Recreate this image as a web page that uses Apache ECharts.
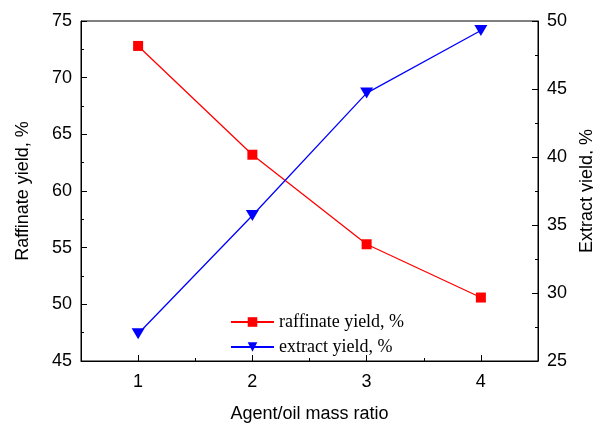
<!DOCTYPE html>
<html>
<head>
<meta charset="utf-8">
<script src="https://cdn.jsdelivr.net/npm/echarts@6/dist/echarts.min.js"></script>
<style>
  html, body { margin: 0; padding: 0; background: #fff; }
  #main { width: 593px; height: 425px; }
</style>
</head>
<body>
<div id="main"></div>
<script>
const ratios = [1, 2, 3, 4];
const halfRatios = [1.5, 2.5, 3.5];
const raffinateYield = [72.8, 63.2, 55.3, 50.6];
const extractYield = [27.0, 35.7, 44.7, 49.3];

const sans = 'Liberation Sans';
const serif = 'Liberation Serif';

const chart = echarts.init(document.getElementById('main'));

function pairs(xs, ys) {
  return xs.map((x, i) => [x, ys[i]]);
}

const axisCommon = {
  axisLine: { show: true, lineStyle: { color: '#000', width: 1 } },
  axisTick: { show: true, inside: true, length: 6, lineStyle: { color: '#000' } },
  minorTick: { show: true, splitNumber: 2, length: 3, lineStyle: { color: '#000' } },
  splitLine: { show: false },
  axisLabel: { color: '#000', fontFamily: sans, fontSize: 18, margin: 9 },
  nameTextStyle: { color: '#000', fontFamily: sans, fontSize: 18 }
};

const option = {
  animation: false,
  backgroundColor: '#fff',
  grid: {
    left: 81, right: 55, top: 21, bottom: 64,
    outerBoundsMode: 'none',
    containLabel: false,
    show: true, borderColor: '#000', borderWidth: 1, backgroundColor: 'transparent'
  },
  legend: {
    orient: 'vertical',
    left: 230,
    top: 313,
    padding: 0,
    itemWidth: 43,
    itemHeight: 12,
    itemGap: 7,
    textStyle: { color: '#000', fontFamily: serif, fontSize: 18 },
    data: ['raffinate yield, %', 'extract yield, %']
  },
  xAxis: [
    Object.assign({}, axisCommon, {
      type: 'value',
      min: 0.5, max: 4.5,
      position: 'bottom',
      name: 'Agent/oil mass ratio',
      nameLocation: 'middle',
      nameGap: 44,
      axisLabel: Object.assign({}, axisCommon.axisLabel, {
        margin: 12,
        customValues: ratios
      }),
      axisTick: Object.assign({}, axisCommon.axisTick, { customValues: ratios }),
      minorTick: { show: false }
    }),
    {
      type: 'value',
      min: 0.5, max: 4.5,
      position: 'bottom',
      axisLine: { show: false },
      axisLabel: { show: false },
      splitLine: { show: false },
      axisTick: { show: true, inside: true, length: 3, customValues: halfRatios, lineStyle: { color: '#000' } }
    }
  ],
  yAxis: [
    Object.assign({}, axisCommon, {
      type: 'value',
      min: 45, max: 75, interval: 5,
      position: 'left',
      name: 'Raffinate yield, %',
      nameLocation: 'middle',
      nameGap: 49
    }),
    Object.assign({}, axisCommon, {
      type: 'value',
      min: 25, max: 50, interval: 5,
      position: 'right',
      name: 'Extract yield, %',
      nameLocation: 'middle',
      nameGap: 34,
      nameRotate: 90
    })
  ],
  series: [
    {
      name: 'raffinate yield, %',
      type: 'line',
      xAxisIndex: 0,
      yAxisIndex: 0,
      data: pairs(ratios, raffinateYield),
      symbol: 'rect',
      symbolSize: 10,
      itemStyle: { color: '#ff0000' },
      lineStyle: { color: '#ff0000', width: 1.3 }
    },
    {
      name: 'extract yield, %',
      type: 'line',
      xAxisIndex: 0,
      yAxisIndex: 1,
      data: pairs(ratios, extractYield),
      symbol: 'triangle',
      symbolRotate: 180,
      symbolSize: [13, 11],
      itemStyle: { color: '#0000ff' },
      lineStyle: { color: '#0000ff', width: 1.3 }
    }
  ]
};

chart.setOption(option);
</script>
</body>
</html>
